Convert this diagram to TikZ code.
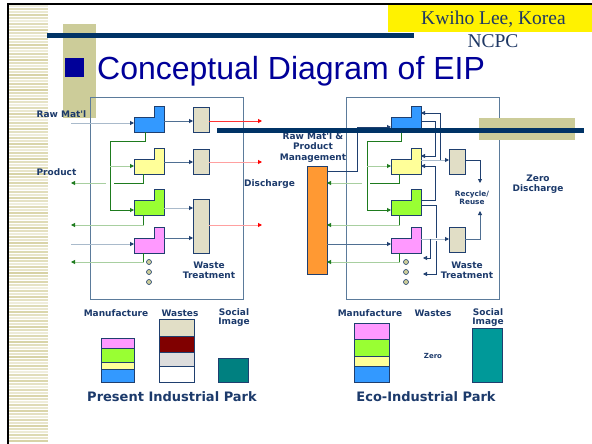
\documentclass[tikz,border=0pt]{standalone}
\usepackage{fontspec}
\setmainfont{Liberation Serif}
\newfontfamily\titlefont{Liberation Sans}
\newfontfamily\labelfont{DejaVu Sans}
\usepackage{xcolor}
\usetikzlibrary{positioning,calc,arrows.meta}

\definecolor{navybar}{HTML}{003366}
\definecolor{khaki}{HTML}{CCCC99}
\definecolor{stripe}{HTML}{D5D0A0}
\definecolor{titleblue}{HTML}{000099}
\definecolor{serifnavy}{HTML}{1F3864}
\definecolor{labnavy}{HTML}{1C3A6B}
\definecolor{frame}{HTML}{5B7B9B}
\definecolor{unitedge}{HTML}{1F3F6F}
\definecolor{wastefill}{HTML}{E1DEC6}
\definecolor{feedline}{HTML}{A9BACB}
\definecolor{flowline}{HTML}{4F6F92}
\definecolor{recgreen}{HTML}{1E7B1E}
\definecolor{prodgreen}{HTML}{A8CFA0}
\definecolor{redline}{HTML}{FF3333}
\definecolor{pinkline}{HTML}{FFA0A0}
\definecolor{unitblue}{HTML}{3399FF}
\definecolor{unityellow}{HTML}{FFFF99}
\definecolor{unitgreen}{HTML}{99FF33}
\definecolor{unitpink}{HTML}{FF99FF}
\definecolor{orangebar}{HTML}{FF9933}
\definecolor{tealone}{HTML}{008080}
\definecolor{tealtwo}{HTML}{009999}
\definecolor{wastered}{HTML}{800000}
\definecolor{wastegray}{HTML}{DDDDDD}

% one process unit: invisible node plus L-shaped body
\newcommand{\procunit}[3]{%
  \node[unit] (#1) at (#2) {};
  \filldraw[unitbody, fill=#3] (#1.south west) -- ++(0,-15) -- ++(20,0) -- ++(0,-11)
    -- (#1.north east) -- (#1.south east) -- cycle;}

\begin{document}
\begin{tikzpicture}[x=1pt, y=-1pt,
    unit/.style={minimum width=30pt, minimum height=26pt, inner sep=0pt, outer sep=0pt},
    unitbody/.style={draw=unitedge, line width=0.8pt},
    wbox/.style={draw=unitedge, fill=wastefill, line width=0.8pt, minimum width=16pt, inner sep=0pt, outer sep=0pt},
    plant/.style={draw=frame, line width=0.9pt, minimum width=153pt, minimum height=202pt, inner sep=0pt},
    layer/.style={draw=unitedge, line width=0.8pt, inner sep=0pt, outer sep=0pt},
    dot/.style={circle, draw=unitedge, fill=khaki, line width=0.6pt, minimum size=5pt, inner sep=0pt},
    lbl/.style={font=\labelfont\bfseries\fontsize{9}{10.3}\selectfont, text=labnavy, inner sep=0pt, align=center},
    park/.style={font=\labelfont\bfseries\fontsize{13}{13}\selectfont, text=labnavy, inner sep=0pt},
    headcol/.style={-{Triangle[length=4pt, width=4pt, color=#1]}},
    feed/.style={draw=feedline, line width=0.9pt, headcol=unitedge},
    flow/.style={draw=flowline, line width=0.9pt, headcol=unitedge},
    loopl/.style={draw=unitedge, line width=0.8pt, headcol=unitedge},
    recyc/.style={draw=recgreen, line width=0.9pt, headcol=recgreen},
    prod/.style={draw=prodgreen, line width=0.9pt, headcol=recgreen},
    disch/.style={draw=redline, line width=0.9pt, headcol=red}
]
\useasboundingbox (0,0) rectangle (592,444);
\fill[white] (0,0) rectangle (592,444);

% slide decoration
\foreach \k in {0,...,145} {
  \pgfmathtruncatemacro{\sh}{mod(\k*37,61)+35}
  \draw[stripe!\sh, line width=1.4pt] (9,6+\k*3) -- (48,6+\k*3);
}
\fill[black] (7,3) rectangle (592,5.3);
\fill[black] (7,3) rectangle (9.2,444);
\fill[khaki] (63,24) rectangle (96,118);
\node[fill=yellow, minimum width=204pt, minimum height=27pt, inner sep=0pt, anchor=north west] (ybox) at (388,5.3) {};
\node[anchor=base, inner sep=0pt, text=serifnavy, font=\fontsize{19.5}{20}\selectfont] (author) at (493.5,25) {Kwiho Lee, Korea};
\node[anchor=base, inner sep=0pt, text=serifnavy, font=\fontsize{19.5}{20}\selectfont] (ncpc) at (493,48) {NCPC};
\fill[navybar] (47,33) rectangle (414,38);
\node[fill=titleblue, minimum size=19pt, inner sep=0pt] (bullet) at (74.5,67.5) {};
\node[anchor=base west, inner sep=0pt, text=titleblue, font=\titlefont\fontsize{32}{32}\selectfont] (title) at (97,80) {Conceptual Diagram of EIP};

% present industrial park
\node[plant] (plant1) at (166.5,198) {};
\procunit{a1}{149,119}{unitblue}
\procunit{a2}{149,161}{unityellow}
\procunit{a3}{149,202}{unitgreen}
\procunit{a4}{149,240}{unitpink}
\node[wbox, minimum height=25pt] (w1) at (201,119.5) {};
\node[wbox, minimum height=25pt] (w2) at (201,161.5) {};
\node[wbox, minimum height=54pt] (w3) at (201,226) {};
\foreach \dy in {262,272,282} \node[dot] (dotl\dy) at (149,\dy) {};

\coordinate (rawin1) at (71,123);
\coordinate (rawin4) at (71,244);
\draw[feed] (rawin1) -- (rawin1 -| a1.west);
\draw[feed] (rawin4) -- (rawin4 -| a4.west);
\draw[flow] ([yshift=-2pt]a1.east) -- ([yshift=-2pt]a1.east -| w1.west);
\draw[flow] ([yshift=-1pt]a2.east) -- ([yshift=-1pt]a2.east -| w2.west);
\draw[flow, draw=feedline] ([yshift=-6pt]a3.east) -- ([yshift=-6pt]a3.east -| w3.west);
\draw[flow] ([yshift=2pt]a4.east) -- ([yshift=2pt]a4.east -| w3.west);

\coordinate (out1) at (262,121);
\coordinate (out2) at (262,162);
\coordinate (out3) at (262,225);
\draw[disch] (out1 -| w1.east) -- (out1);
\draw[disch, draw=pinkline] (out2 -| w2.east) -- (out2);
\draw[disch, draw=pinkline] (out3 -| w3.east) -- (out3);

\coordinate (bus1) at (110,141);
\draw[recyc] ([xshift=-4pt]a1.south) |- (bus1) |- ([yshift=-8pt]a3.west);
\draw[recyc, draw=prodgreen] ([yshift=-5pt]a2.west -| bus1) -- ([yshift=-5pt]a2.west);

\coordinate (prd1) at (71,183);
\coordinate (prd2) at (71,225);
\coordinate (prd3) at (71,262);
\draw[recgreen, line width=0.9pt] ([xshift=-6pt]a2.south) |- ([xshift=4pt]bus1 |- prd1);
\draw[prod] ([xshift=-4pt]bus1 |- prd1) -- (prd1);
\foreach \u/\p in {a3/prd2, a4/prd3} {
  \draw[prod] ([xshift=-6pt]\u.south) |- (\p);
  \draw[recgreen, line width=0.9pt] ([xshift=-6pt]\u.south) -- ([xshift=-6pt]\u.south |- \p);
}

\node[lbl] (rawl) at (61.5,114) {Raw Mat'l};
\node[lbl] (prodl) at (56.5,172) {Product};
\node[lbl] (disl) at (269.5,184) {Discharge};
\node[lbl] (wtl) at (209,270) {Waste\\Treatment};

% eco-industrial park
\node[plant] (plant2) at (422.5,198) {};
\procunit{b1}{406,119}{unitblue}
\procunit{b2}{406,161}{unityellow}
\procunit{b3}{406,202}{unitgreen}
\procunit{b4}{406,240}{unitpink}
\node[wbox, minimum height=25pt] (r1) at (457,161.5) {};
\node[wbox, minimum height=25pt] (r2) at (457,239.5) {};
\node[layer, fill=orangebar, minimum width=20pt, minimum height=108pt] (mgmt) at (317,220) {};
\foreach \dy in {262,272,282} \node[dot] (dotr\dy) at (406,\dy) {};

\draw[flow, draw=unitedge] ([yshift=-5pt]mgmt.north east) -| ([xshift=-34pt,yshift=-8pt]b1.west) -- ([yshift=-8pt]b1.west);
\draw[flow] ([yshift=-4pt]b4.west -| mgmt.east) -- ([yshift=-4pt]b4.west);

\coordinate (bus2) at (367,141);
\draw[recyc] ([xshift=-5pt]b1.south) |- (bus2) |- ([yshift=-8pt]b3.west);
\draw[recyc, draw=prodgreen] ([yshift=-5pt]b2.west -| bus2) -- ([yshift=-5pt]b2.west);

\coordinate (rp1) at (362,183);
\coordinate (rpg) at (370,183);
\coordinate (rp2) at (340,225);
\coordinate (rp3) at (340,262);
\draw[recgreen, line width=0.9pt] ([xshift=-7pt]b2.south) |- (rpg);
\draw[prod] (rp1) -- (rp1 -| mgmt.east);
\foreach \u/\p in {b3/rp2, b4/rp3} {
  \draw[prod] ([xshift=-7pt]\u.south) |- (\p -| mgmt.east);
  \draw[recgreen, line width=0.9pt] ([xshift=-7pt]\u.south) -- ([xshift=-7pt]\u.south |- \p);
}

\coordinate (back1) at (423,274);
\coordinate (back2) at (423,258);
\coordinate (rr1) at (480,183);
\coordinate (rr2) at (480,211);
\draw[loopl] ([yshift=-2pt]b1.east) -| ([xshift=14pt,yshift=5pt]b2.east) -- ([yshift=5pt]b2.east);
\draw[flow, draw=feedline] ([yshift=1pt]b2.east) -- ([yshift=1pt]b2.east -| r1.west);
\draw[loopl] ([xshift=19pt,yshift=1pt]b2.east) |- ([yshift=6pt]b1.east);
\draw[loopl] ([yshift=2pt]b3.east) -| ([xshift=14pt,yshift=-5pt]b2.east) -- ([yshift=-5pt]b2.east);
\draw[loopl] ([yshift=-3pt]b3.east) -| ([xshift=13pt]back1) -- (back1);
\draw[white, line width=3pt] ([xshift=12pt,yshift=1pt]b4.east) -- ++(7,0);
\draw[flow, draw=feedline] ([yshift=1pt]b4.east) -- ([yshift=1pt]b4.east -| r2.west);
\draw[loopl] ([xshift=9pt,yshift=1pt]b4.east) |- (back2);
\draw[loopl] ([yshift=1.5pt]r1.east) -| (rr1);
\draw[loopl, draw=flowline] (r2.east) -| (rr2);

\node[lbl] (rpml) at (313,147.5) {Raw Mat'l \&\\Product\\Management};
\node[lbl, font=\labelfont\bfseries\fontsize{7.3}{8}\selectfont] (rrl) at (472,198) {Recycle/\\Reuse};
\node[lbl] (zdl) at (538,184.5) {Zero\\Discharge};
\node[lbl] (wt2l) at (467,270) {Waste\\Treatment};

\fill[khaki] (479,118) rectangle (575,140);
\fill[navybar] (217,128) rectangle (584,133);

% bottom comparison, present
\node[lbl] (man1) at (116,313) {Manufacture};
\node[lbl] (was1) at (180,313) {Wastes};
\node[lbl, font=\labelfont\bfseries\fontsize{9}{9}\selectfont] (soc1) at (234,317.5) {Social\\Image};
\node[layer, fill=unitpink, minimum width=33pt, minimum height=10pt] (m1p) at (117.5,343) {};
\node[layer, fill=unitgreen, minimum width=33pt, minimum height=14pt, below=0pt of m1p] (m1g) {};
\node[layer, fill=unityellow, minimum width=33pt, minimum height=7pt, below=0pt of m1g] (m1y) {};
\node[layer, fill=unitblue, minimum width=33pt, minimum height=13pt, below=0pt of m1y] (m1b) {};
\node[layer, fill=wastefill, minimum width=35pt, minimum height=17pt] (ws1) at (176.5,327.5) {};
\node[layer, fill=wastered, minimum width=35pt, minimum height=16pt, below=0pt of ws1] (ws2) {};
\node[layer, fill=wastegray, minimum width=35pt, minimum height=14pt, below=0pt of ws2] (ws3) {};
\node[layer, fill=white, minimum width=35pt, minimum height=16pt, below=0pt of ws3] (ws4) {};
\node[layer, fill=tealone, minimum width=30pt, minimum height=24pt] (si1) at (233,370) {};
\node[park] (park1) at (172,397) {Present Industrial Park};

% bottom comparison, eco
\node[lbl] (man2) at (370,313) {Manufacture};
\node[lbl] (was2) at (433,313) {Wastes};
\node[lbl, font=\labelfont\bfseries\fontsize{9}{9}\selectfont] (soc2) at (488,317.5) {Social\\Image};
\node[layer, fill=unitpink, minimum width=35pt, minimum height=16pt] (m2p) at (371.5,331) {};
\node[layer, fill=unitgreen, minimum width=35pt, minimum height=17pt, below=0pt of m2p] (m2g) {};
\node[layer, fill=unityellow, minimum width=35pt, minimum height=10pt, below=0pt of m2g] (m2y) {};
\node[layer, fill=unitblue, minimum width=35pt, minimum height=16pt, below=0pt of m2y] (m2b) {};
\node[lbl, font=\labelfont\bfseries\fontsize{7}{8}\selectfont] (zero) at (433,356) {Zero};
\node[layer, fill=tealtwo, minimum width=30pt, minimum height=54pt] (si2) at (487,355) {};
\node[park] (park2) at (426,397) {Eco-Industrial Park};
\end{tikzpicture}
\end{document}
